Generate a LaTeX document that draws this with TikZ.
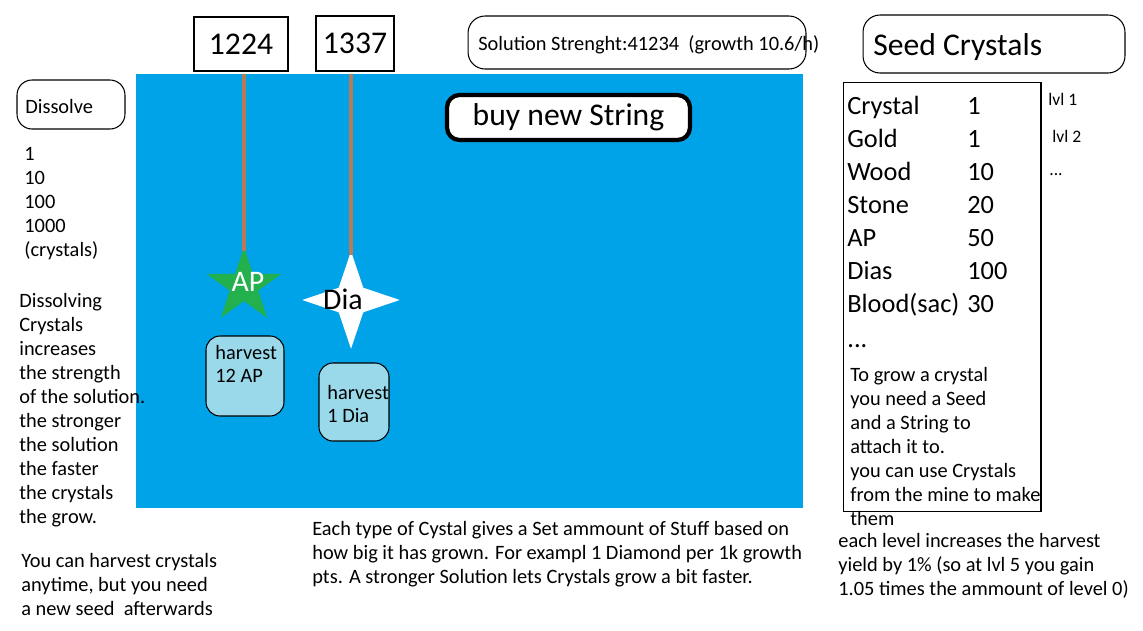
\documentclass[tikz,border=0pt]{standalone}
\usepackage{fontspec}
\setmainfont{Carlito}
\usetikzlibrary{shapes.geometric, positioning}

\definecolor{tankblue}{RGB}{0,162,232}
\definecolor{stringbrown}{RGB}{185,122,87}
\definecolor{apgreen}{RGB}{34,177,76}
\definecolor{harvestblue}{RGB}{153,217,234}

\tikzset{
    smalltext/.style={font=\fontsize{11.6}{13}\selectfont, inner sep=0, anchor=base west},
    lvltext/.style={font=\fontsize{10}{12}\selectfont, inner sep=0, anchor=base west},
    listtext/.style={font=\fontsize{15}{18}\selectfont, inner sep=0, anchor=base west},
    bigtext/.style={font=\fontsize{18}{21}\selectfont, inner sep=0},
    tank/.style={rectangle, fill=tankblue, inner sep=0},
    countbox/.style={rectangle, draw, line width=0.6pt, fill=white, inner sep=0, bigtext},
    titlebox/.style={rectangle, draw, line width=0.6pt, rounded corners=0.34cm, inner sep=0},
    buybox/.style={rectangle, draw, line width=2.4pt, fill=white, rounded corners=0.25cm, inner sep=0, bigtext},
    listbox/.style={rectangle, draw, line width=0.6pt, inner sep=0},
    harvestbox/.style={rectangle, draw, line width=0.6pt, fill=harvestblue, rounded corners=0.28cm, inner sep=0},
    string/.style={stringbrown, line width=2.6pt},
}

\begin{document}
\begin{tikzpicture}[x=0.02cm, y=-0.02cm]
    \useasboundingbox (0,0) rectangle (1143,630);

    % solution tank
    \node[tank, minimum width=13.34cm, minimum height=8.68cm] (tank) at (469.5,291) {};

    % crystals on strings
    \node[star, star points=5, star point ratio=2.618, minimum size=1.57cm, fill=apgreen, inner sep=0] (ap) at (244,286) {};
    \node[star, star points=4, star point ratio=2.8, minimum size=1.95cm, fill=white, inner sep=0] (dia) at (351,300) {};
    \draw[string] (ap.north |- tank.north) -- ([yshift=-3pt]ap.north);
    \draw[string] (dia.north |- tank.north) -- ([yshift=-3pt]dia.north);
    \node[bigtext, font=\fontsize{17}{20}\selectfont, text=white] (ap label) at (248,282) {AP};
    \node[bigtext, font=\fontsize{17}{20}\selectfont] (dia label) at (343,299) {Dia};

    \node[countbox, minimum width=1.88cm, minimum height=1.08cm] (apcount) at (241,44) {1224};
    \node[countbox, minimum width=1.56cm, minimum height=1.1cm] (diacount) at (355,43.5) {1337};

    \node[harvestbox, minimum width=1.56cm, minimum height=1.6cm] (apharvest) at (245,376) {};
    \node[smalltext] (apharvest1) at (215,359) {harvest};
    \node[smalltext] (apharvest2) at (215,382) {12 AP};
    \node[harvestbox, minimum width=1.4cm, minimum height=1.56cm] (diaharvest) at (354,402) {};
    \node[smalltext] (diaharvest1) at (327,399) {harvest};
    \node[smalltext] (diaharvest2) at (327,422) {1 Dia};

    \node[buybox, minimum width=4.86cm, minimum height=0.9cm] (buystring) at (568.5,117.5) {buy new String};

    % solution strength
    \node[titlebox, minimum width=6.76cm, minimum height=1.06cm] (solution) at (637,42.5) {};
    \node[smalltext] (solution text) at (478,50) {Solution Strenght:41234~~(growth 10.6/h)};

    % dissolve column
    \node[titlebox, rounded corners=0.3cm, minimum width=2.16cm, minimum height=0.98cm] (dissolve) at (71,104.5) {};
    \node[smalltext] (dissolve text) at (25,113) {Dissolve};
    \foreach \amount [count=\i from 0] in {1, 10, 100, 1000, (crystals)}
        \node[smalltext] (dissolve amount\i) at (24,{160+24*\i}) {\amount};
    \foreach \line [count=\i from 0] in {Dissolving, Crystals, increases, the strength,
            of the solution., the stronger, the solution, the faster, the crystals, the grow.}
        \node[smalltext] (dissolve info\i) at (19,{307+24*\i}) {\line};
    \foreach \line [count=\i from 0] in {You can harvest crystals, {anytime, but you need},
            a new seed~~afterwards}
        \node[smalltext] (harvest info\i) at (21,{567+24*\i}) {\line};

    % stuff per crystal
    \foreach \line [count=\i from 0] in {Each type of Cystal gives a Set ammount of Stuff based on,
            how big it has grown. For exampl 1 Diamond per 1k growth,
            pts. A stronger Solution lets Crystals grow a bit faster.}
        \node[smalltext] (stuff info\i) at (312,{535+24*\i}) {\line};

    % seed crystals
    \node[titlebox, minimum width=5.24cm, minimum height=1.16cm] (seedbox) at (994,44) {};
    \node[bigtext, anchor=base west] (seed title) at (873,55) {Seed Crystals};
    \node[listbox, minimum width=3.96cm, minimum height=8.6cm] (seedlist) at (942,297) {};
    \foreach \crystal/\amount [count=\i from 0] in {Crystal/1, Gold/1, Wood/10, Stone/20,
            AP/50, Dias/100, Blood(sac)/30} {
        \node[listtext] (seed name\i) at (847,{114+33*\i}) {\crystal};
        \node[listtext] (seed amount\i) at (967,{114+33*\i}) {\amount};
    }
    \node[listtext] (seed more) at (847,347) {...};
    \node[lvltext] (lvl1) at (1048,105) {lvl 1};
    \node[lvltext] (lvl2) at (1052,142) {lvl 2};
    \node[lvltext] (lvl more) at (1049,175) {...};
    \foreach \line [count=\i from 0] in {To grow a crystal, you need a Seed, and a String to,
            attach it to., you can use Crystals, from the mine to make, them}
        \node[smalltext] (seed info\i) at (850,{381+24*\i}) {\line};
    \foreach \line [count=\i from 0] in {each level increases the harvest,
            yield by 1\% (so at lvl 5 you gain, 1.05 times the ammount of level 0)}
        \node[smalltext] (level info\i) at (838,{547+24*\i}) {\line};
\end{tikzpicture}
\end{document}
